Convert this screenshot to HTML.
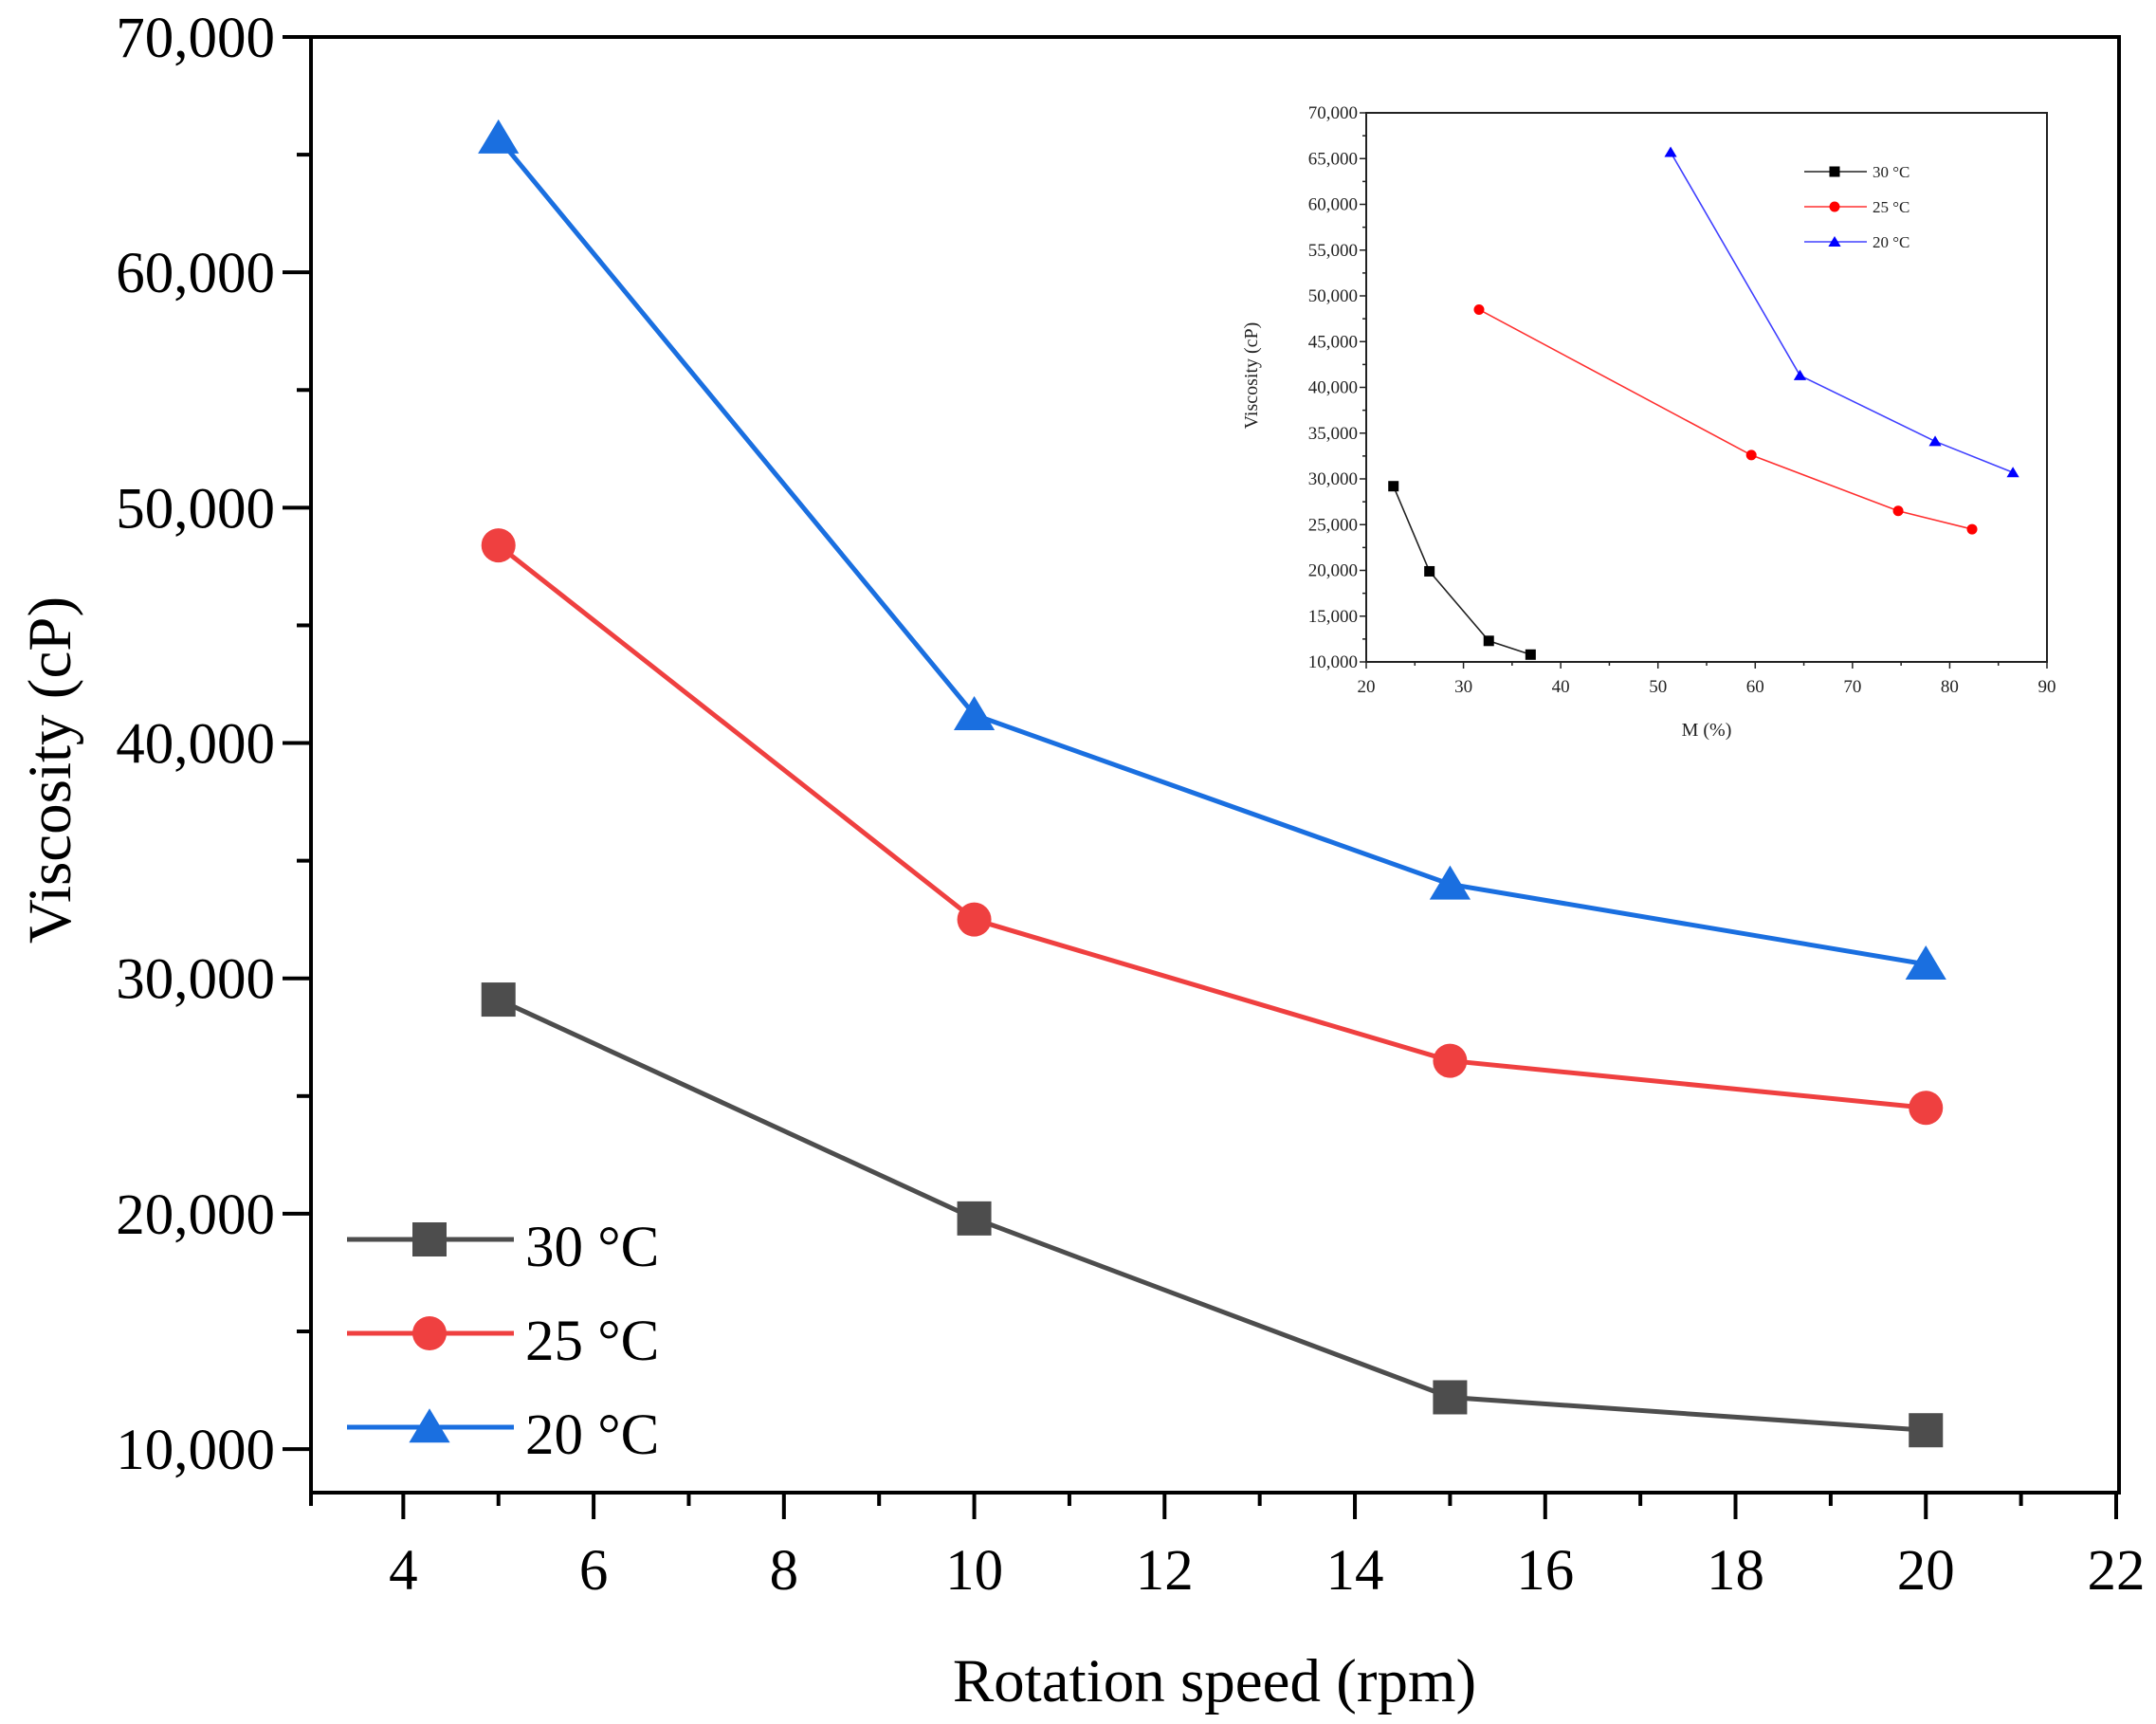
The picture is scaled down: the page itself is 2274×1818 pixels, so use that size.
<!DOCTYPE html>
<html><head><meta charset="utf-8"><style>
html,body{margin:0;padding:0;background:#fff;}
svg{display:block;font-family:"Liberation Serif",serif;}
</style></head><body>
<svg id="chart" width="2274" height="1818" viewBox="0 0 2274 1818" xmlns="http://www.w3.org/2000/svg"></svg>
<script>
// Main chart data
const speeds = [5, 10, 15, 20];
const visc30 = [29100, 19800, 12200, 10800];
const visc25 = [48400, 32500, 26500, 24500];
const visc20 = [65700, 41200, 34000, 30600];
const xTicks = [4, 6, 8, 10, 12, 14, 16, 18, 20, 22];
const yTicks = [10000, 20000, 30000, 40000, 50000, 60000, 70000];
const seriesLabels = ["30 °C", "25 °C", "20 °C"];
// Inset data
const insetM30 = [22.8, 26.5, 32.6, 36.9];
const insetV30 = [29200, 19900, 12300, 10800];
const insetM25 = [31.6, 59.6, 74.7, 82.3];
const insetV25 = [48500, 32600, 26500, 24500];
const insetM20 = [51.3, 64.6, 78.5, 86.5];
const insetV20 = [65700, 41300, 34100, 30700];
const insetXTicks = [20, 30, 40, 50, 60, 70, 80, 90];
const insetYTicks = [10000, 15000, 20000, 25000, 30000, 35000, 40000, 45000, 50000, 55000, 60000, 65000, 70000];

const NS = "http://www.w3.org/2000/svg";
const svg = document.getElementById("chart");
function mk(tag, attrs, parent, text) {
  const e = document.createElementNS(NS, tag);
  for (const k in attrs) e.setAttribute(k, attrs[k]);
  if (text !== undefined) e.textContent = text;
  (parent || svg).appendChild(e);
  return e;
}
const fmt = v => v.toLocaleString("en-US");

// ---------- main axes ----------
const L = 328, R = 2235, T = 39, B = 1574;
const xMin = 3.03, xMax = 22.03, yMin = 8150, yMax = 70000;
const X = v => L + (v - xMin) / (xMax - xMin) * (R - L);
const Y = v => B - (v - yMin) / (yMax - yMin) * (B - T);

const axes = mk("g", {});


const frame = mk("rect", {x: L, y: T, width: R - L, height: B - T, fill: "none", stroke: "#000", "stroke-width": 4}, axes);



for (let v = 10000; v <= 70000; v += 5000) {
  const major = v % 10000 === 0;
  const t = mk("line", {x1: L - (major ? 30 : 15), x2: L, y1: Y(v), y2: Y(v), stroke: "#000", "stroke-width": 4}, axes);
  
  
}
yTicks.forEach(v => {
  const t = mk("text", {x: L - 38, y: Y(v) + 21, "text-anchor": "end", "font-size": 61, fill: "#000"}, axes, fmt(v));
  
  
});
for (let v = 4; v <= 22; v += 1) {
  const major = v % 2 === 0;
  const t = mk("line", {x1: X(v), x2: X(v), y1: B, y2: B + (major ? 28 : 14), stroke: "#000", "stroke-width": 4}, axes);
  
  
}
{
  const t = mk("line", {x1: L, x2: L, y1: B, y2: B + 14, stroke: "#000", "stroke-width": 4}, axes);
  
  
}
xTicks.forEach(v => {
  const t = mk("text", {x: X(v), y: B + 102, "text-anchor": "middle", "font-size": 61, fill: "#000"}, axes, String(v));
  
  
});
const xt = mk("text", {x: 1281, y: 1794, "text-anchor": "middle", "font-size": 65, fill: "#000"}, svg, "Rotation speed (rpm)");


const yt = mk("text", {x: 0, y: 0, "text-anchor": "middle", "font-size": 65, fill: "#000", transform: "translate(74,812) rotate(-90)"}, svg, "Viscosity (cP)");



function marker(shape, cx, cy, s, color, parent) {
  let e;
  if (shape === "square") e = mk("rect", {x: cx - s / 2, y: cy - s / 2, width: s, height: s, fill: color}, parent);
  else if (shape === "circle") e = mk("circle", {cx: cx, cy: cy, r: s / 2, fill: color}, parent);
  else e = mk("polygon", {points: `${cx},${cy - s * 0.55} ${cx - s * 0.6},${cy + s * 0.45} ${cx + s * 0.6},${cy + s * 0.45}`, fill: color}, parent);
  return e;
}

const mainSeries = [
  {vals: visc30, color: "#4d4d4d", shape: "square", name: "series-30c"},
  {vals: visc25, color: "#ef4040", shape: "circle", name: "series-25c"},
  {vals: visc20, color: "#1a6fe0", shape: "triangle", name: "series-20c"}
];
mainSeries.forEach(s => {
  const g = mk("g", {});
  
  
  const pl = mk("polyline", {points: speeds.map((x, i) => X(x) + "," + Y(s.vals[i])).join(" "), fill: "none", stroke: s.color, "stroke-width": 5}, g);
  
  
  speeds.forEach((x, i) => {
    const m = marker(s.shape, X(x), Y(s.vals[i]), 36, s.color, g);
    
    
  });
});

// legend
const lg = mk("g", {});


const legY = [1307, 1406, 1505];
mainSeries.forEach((s, i) => {
  const ent = mk("g", {}, lg);
  
  
  mk("line", {x1: 366, x2: 542, y1: legY[i], y2: legY[i], stroke: s.color, "stroke-width": 5}, ent);
  marker(s.shape, 453, legY[i], 36, s.color, ent);
  mk("text", {x: 554, y: legY[i] + 28, "font-size": 61, fill: "#000"}, ent, seriesLabels[i]);
});

// ---------- inset ----------
const iL = 1441, iR = 2159, iT = 119, iB = 698;
const iX = v => iL + (v - 20) / 70 * (iR - iL);
const iY = v => iB - (v - 10000) / 60000 * (iB - iT);
const inset = mk("g", {});


mk("rect", {x: iL, y: iT, width: iR - iL, height: iB - iT, fill: "none", stroke: "#222", "stroke-width": 2}, inset);
for (let v = 10000; v <= 70000; v += 2500) {
  const major = v % 5000 === 0;
  mk("line", {x1: iL - (major ? 7 : 4), x2: iL, y1: iY(v), y2: iY(v), stroke: "#222", "stroke-width": 1.5}, inset);
}
insetYTicks.forEach(v => {
  const t = mk("text", {x: iL - 9, y: iY(v) + 6, "text-anchor": "end", "font-size": 19, fill: "#222"}, inset, fmt(v));
  
  
});
for (let v = 20; v <= 90; v += 5) {
  const major = v % 10 === 0;
  mk("line", {x1: iX(v), x2: iX(v), y1: iB, y2: iB + (major ? 7 : 4), stroke: "#222", "stroke-width": 1.5}, inset);
}
insetXTicks.forEach(v => {
  const t = mk("text", {x: iX(v), y: iB + 32, "text-anchor": "middle", "font-size": 19, fill: "#222"}, inset, String(v));
  
  
});
const ixt = mk("text", {x: 1800, y: 776, "text-anchor": "middle", "font-size": 20, fill: "#222"}, inset, "M (%)");


const iyt = mk("text", {x: 0, y: 0, "text-anchor": "middle", "font-size": 20, fill: "#222", transform: "translate(1326,396) rotate(-90)"}, inset, "Viscosity (cP)");



const insetSeries = [
  {m: insetM30, v: insetV30, color: "#000", line: "#222", shape: "square", name: "inset-series-30c"},
  {m: insetM25, v: insetV25, color: "#ff0000", line: "#ff3030", shape: "circle", name: "inset-series-25c"},
  {m: insetM20, v: insetV20, color: "#0000ff", line: "#4040ff", shape: "triangle", name: "inset-series-20c"}
];
const iLegY = [181, 218, 255];
insetSeries.forEach((s, i) => {
  const g = mk("g", {}, inset);
  
  
  mk("polyline", {points: s.m.map((x, j) => iX(x) + "," + iY(s.v[j])).join(" "), fill: "none", stroke: s.line, "stroke-width": 1.6}, g);
  s.m.forEach((x, j) => {
    const mm = marker(s.shape, iX(x), iY(s.v[j]), 11, s.color, g);
    
    
  });
  const ent = mk("g", {}, inset);
  
  
  mk("line", {x1: 1903, x2: 1969, y1: iLegY[i], y2: iLegY[i], stroke: s.line, "stroke-width": 1.6}, ent);
  marker(s.shape, 1935, iLegY[i], 11, s.color, ent);
  mk("text", {x: 1975, y: iLegY[i] + 6, "font-size": 17, fill: "#222"}, ent, seriesLabels[i]);
});
</script>
</body></html>
